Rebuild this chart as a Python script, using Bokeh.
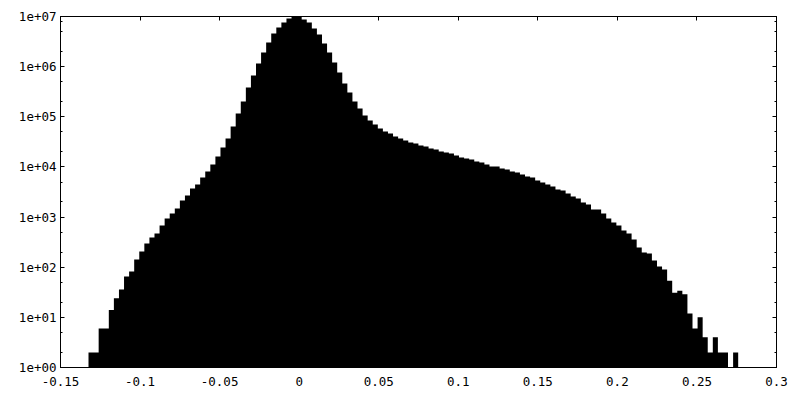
from bokeh.plotting import figure
from bokeh.models import (Range1d, FixedTicker, CustomJSTickFormatter, LinearAxis, LogAxis,
                          ColumnDataSource, CustomLabelingPolicy)
from bokeh.embed import file_html
from bokeh.resources import INLINE

# ---- data ----
bin_start = -0.1324
bin_width = 0.00319
counts = [
    2, 2, 6, 6, 14, 24, 36, 65, 82, 142,
    206, 297, 391, 470, 679, 936, 1178, 1482, 2140, 2694,
    3714, 4462, 6155, 8102, 11180, 16140, 24410, 36900, 64020, 116300,
    201800, 383700, 665800, 1155000, 1914000, 3030000, 4581000, 6035000, 7592000, 9122000,
    9950000, 9900000, 8712000, 7592000, 5764000, 4375000, 2894000, 1914000, 1209000, 764000,
    461000, 305000, 201800, 146300, 106100, 84330, 70190, 58410, 50870, 46410,
    40440, 36900, 33660, 30700, 29320, 26750, 25550, 23310, 22260, 20310,
    19400, 18530, 16900, 15420, 14730, 14070, 12830, 12260, 11180, 10200,
    10200, 9303, 8885, 8102, 7743, 7063, 6443, 6155, 5361, 4891,
    4462, 4071, 3547, 3388, 2953, 2573, 2347, 1953, 1781, 1416,
    1416, 1178, 936, 779, 679, 540, 470, 357, 247, 197,
    188, 136, 103, 90, 54, 31, 34, 29, 12, 6,
    10, 4, 2, 4, 2, 2, 1, 2,
]
x_ticks = [-0.15, -0.1, -0.05, 0, 0.05, 0.1, 0.15, 0.2, 0.25, 0.3]
y_ticks = [1, 10, 100, 1e3, 1e4, 1e5, 1e6, 1e7]
y_minor = [m * t for t in y_ticks[:-1] for m in (2, 5)] + [8e6]

# step outline of the histogram: bin edges, each count held until the next edge
edges = [bin_start + i * bin_width for i in range(len(counts) + 1)]
src = ColumnDataSource(dict(x=edges, top=counts + [counts[-1]], base=[1] * len(edges)))

FONT = "DejaVu Sans Mono"
FS = "12.5px"

p = figure(frame_width=716, frame_height=351, y_axis_type="log",
           x_range=Range1d(-0.15, 0.3), y_range=Range1d(1, 1e7),
           output_backend="svg", toolbar_location=None,
           min_border_left=60, min_border_right=24, min_border_top=16, min_border_bottom=33)
p.background_fill_color = "white"
p.border_fill_color = "white"
p.grid.visible = False
p.outline_line_color = "black"
p.outline_line_width = 1

p.varea_step(x="x", y1="base", y2="top", step_mode="after", source=src,
             fill_color="black")

xfmt = CustomJSTickFormatter(code="return String(Number(tick.toFixed(2)));")
yfmt = CustomJSTickFormatter(code="""
const e = Math.round(Math.log10(tick));
return "1e+" + (e < 10 ? "0" + e : String(e));
""")

hide_all = CustomLabelingPolicy(code="""
try { return new indices.constructor(indices.size); } catch (e) { return indices; }
""")

def style(ax, labels=True):
    ax.axis_line_color = "black"
    ax.major_tick_line_color = "black"
    ax.minor_tick_line_color = "black"
    ax.major_tick_in = 4
    ax.major_tick_out = 0
    ax.minor_tick_in = 2
    ax.minor_tick_out = 0
    if labels:
        ax.major_label_text_font = FONT
        ax.major_label_text_font_size = FS
        ax.major_label_text_color = "black"
    else:
        ax.major_label_policy = hide_all
        ax.major_label_text_font_size = "1px"
        ax.major_label_text_color = None
        ax.major_label_standoff = 0

xa = p.xaxis[0]
xa.ticker = FixedTicker(ticks=x_ticks)
xa.formatter = xfmt
style(xa)
xa.major_label_standoff = 9

ya = p.yaxis[0]
ya.ticker = FixedTicker(ticks=y_ticks, minor_ticks=y_minor)
ya.formatter = yfmt
style(ya)
ya.major_label_standoff = 4

top_ax = LinearAxis(ticker=FixedTicker(ticks=x_ticks))
style(top_ax, labels=False)
p.add_layout(top_ax, "above")

right_ax = LogAxis(ticker=FixedTicker(ticks=y_ticks, minor_ticks=y_minor))
style(right_ax, labels=False)
p.add_layout(right_ax, "right")

open("out.html", "w").write(file_html(p, INLINE))
